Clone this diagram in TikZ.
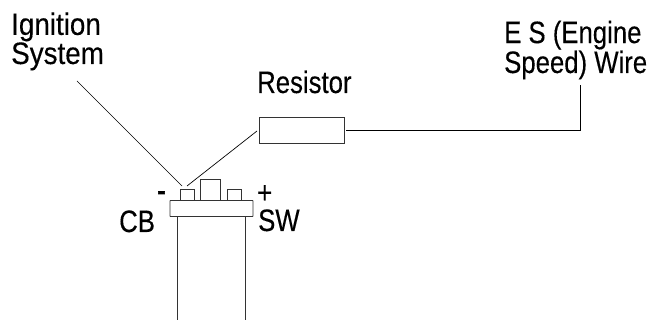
\documentclass[tikz,border=0pt]{standalone}
\usepackage{fontspec}
\setmainfont[FakeStretch=0.83,FakeBold=0.25]{Liberation Sans}
\begin{document}
\begin{tikzpicture}[x=1pt,y=-1pt,
  part/.style={draw=black!80,line width=0.9pt,fill=white,inner sep=0pt,minimum width=#1},
  lead/.style={draw=black,line width=0.7pt},
  lbl/.style={font=\fontsize{31}{28}\selectfont,inner sep=0pt,align=left,anchor=base west,text=black}]
\useasboundingbox (0,0) rectangle (650,320);
% body and flange
\draw[part=0pt] (177,320) -- (177,216.5) -- (245.5,216.5) -- (245.5,320);
\node[part=83pt,minimum height=16pt,rounded corners=0.6pt] (flange) at (211.5,208.5) {};
\node[part=14pt,minimum height=11pt,anchor=south] (minus) at (187.5,200.5) {};
\node[part=20pt,minimum height=21pt,anchor=south] (mid) at (210,200.5) {};
\node[part=14pt,minimum height=11pt,anchor=south] (plus) at (234.5,200.5) {};
\node[part=85pt,minimum height=26.5pt] (res) at (301.5,130.5) {};
% labels
\node[lbl,xscale=1.08,transform shape] (ign) at (11,64) {Ignition\\System};
\node[lbl] (reslbl) at (257,93) {Resistor};
\node[lbl] (es) at (504,73) {E S (Engine\\Speed) Wire};
\node[lbl] (cb) at (119,232) {CB};
\node[lbl] (sw) at (258,231) {SW};
\node[lbl,font=\fontsize{31}{28}\selectfont\addfontfeature{FakeBold=2}] (mn) at (157,201) {-};
\node[lbl] (pl) at (257,203) {+};
% leads
\coordinate (ignA) at (77,81);
\coordinate (ignB) at (182,186);
\coordinate (resB) at (187,186);
\coordinate (resA) at (257,131);
\coordinate (wireA) at (346,130);
\coordinate (wireC) at (580,130);
\coordinate (wireB) at (580,85);
\draw[lead] (ignA) -- (ignB);
\draw[lead] (resA) -- (resB);
\draw[lead] (wireA) -- (wireC) -- (wireB);
\end{tikzpicture}
\end{document}
